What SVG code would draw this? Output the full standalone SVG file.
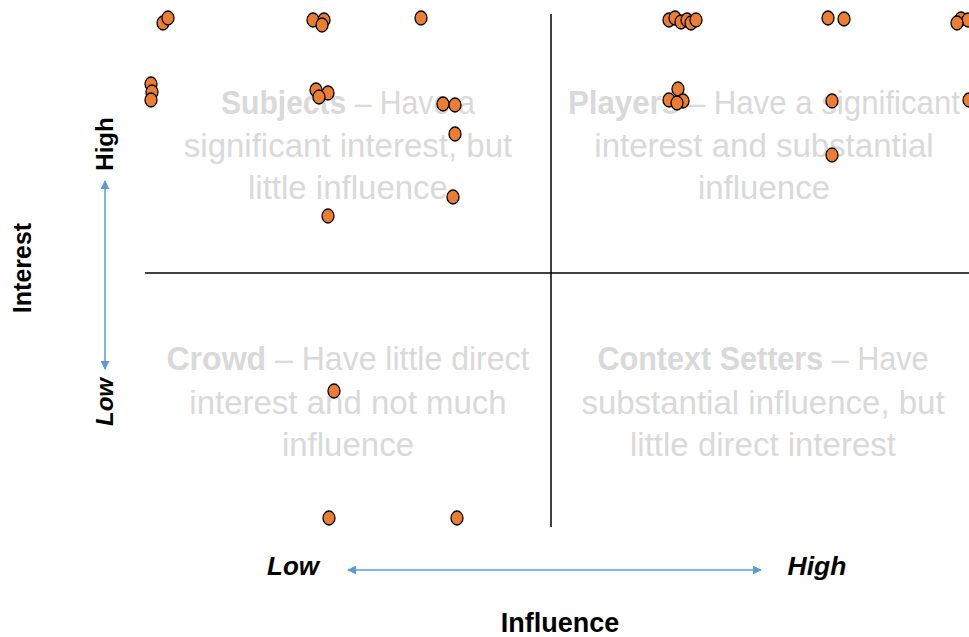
<svg xmlns="http://www.w3.org/2000/svg" width="969" height="637" viewBox="0 0 969 637">
<style>
.q{font-family:"Liberation Sans",Arial,sans-serif;font-size:33px;fill:#D9D9D9;text-anchor:middle}
.q .b{font-weight:bold}
.ax{font-family:"Liberation Sans",Arial,sans-serif;font-weight:bold;fill:#000}
.it{font-style:italic}
.dot{fill:#ED7D31;stroke:#000;stroke-width:1.3}
.grid{stroke:#000;stroke-width:1.5;fill:none}
.arr{stroke:#5B9BD5;stroke-width:1.5;fill:none;marker-start:url(#ah);marker-end:url(#ah)}
</style>
<defs>
<marker id="ah" viewBox="0 0 10 10" refX="9" refY="5" markerWidth="9" markerHeight="9" markerUnits="userSpaceOnUse" orient="auto-start-reverse">
<path d="M0,0 L10,5 L0,10 z" fill="#5B9BD5"/>
</marker>
</defs>
<rect width="969" height="637" fill="#fff"/>
<g id="quadrant-subjects" class="q">
<text x="348" y="114" textLength="254" lengthAdjust="spacingAndGlyphs"><tspan class="b">Subjects</tspan> – Have a</text>
<text x="348" y="157">significant interest, but</text>
<text x="348" y="199">little influence</text>
</g>
<g id="quadrant-players" class="q">
<text x="764" y="114" textLength="392" lengthAdjust="spacingAndGlyphs"><tspan class="b">Players</tspan> – Have a significant</text>
<text x="764" y="157">interest and substantial</text>
<text x="764" y="199">influence</text>
</g>
<g id="quadrant-crowd" class="q">
<text x="348" y="370" textLength="363" lengthAdjust="spacingAndGlyphs"><tspan class="b">Crowd</tspan> – Have little direct</text>
<text x="348" y="414">interest and not much</text>
<text x="348" y="456">influence</text>
</g>
<g id="quadrant-context" class="q">
<text x="763" y="370" textLength="331" lengthAdjust="spacingAndGlyphs"><tspan class="b">Context Setters</tspan> – Have</text>
<text x="763" y="414">substantial influence, but</text>
<text x="763" y="456">little direct interest</text>
</g>
<g id="connectors">
<line class="grid" x1="551" y1="14" x2="551" y2="527"/>
<line class="grid" x1="145" y1="273" x2="969" y2="273"/>
<line class="arr" x1="105" y1="181" x2="105" y2="369"/>
<line class="arr" x1="348" y1="570" x2="761" y2="570"/>
</g>
<g id="axis-labels">
<text class="ax" x="560" y="632" font-size="27" text-anchor="middle">Influence</text>
<text class="ax it" x="293" y="575" font-size="26" text-anchor="middle">Low</text>
<text class="ax it" x="817" y="575" font-size="26.5" text-anchor="middle">High</text>
<text class="ax" font-size="25" text-anchor="middle" transform="translate(31,268) rotate(-90)">Interest</text>
<text class="ax" font-size="24" text-anchor="middle" transform="translate(113,144) rotate(-90)">High</text>
<text class="ax it" font-size="24" text-anchor="middle" transform="translate(113,402) rotate(-90)">Low</text>
</g>
<g id="dots">
<ellipse class="dot" cx="163" cy="23" rx="6" ry="7"/>
<ellipse class="dot" cx="168" cy="18" rx="6" ry="7"/>
<ellipse class="dot" cx="313" cy="20" rx="6" ry="7"/>
<ellipse class="dot" cx="324" cy="20" rx="6" ry="7"/>
<ellipse class="dot" cx="322" cy="25" rx="6" ry="7"/>
<ellipse class="dot" cx="421" cy="18" rx="6" ry="7"/>
<ellipse class="dot" cx="151" cy="84" rx="6" ry="7"/>
<ellipse class="dot" cx="152" cy="92" rx="6" ry="7"/>
<ellipse class="dot" cx="151" cy="100" rx="6" ry="7"/>
<ellipse class="dot" cx="316" cy="90" rx="6" ry="7"/>
<ellipse class="dot" cx="328" cy="93" rx="6" ry="7"/>
<ellipse class="dot" cx="319" cy="97" rx="6" ry="7"/>
<ellipse class="dot" cx="443" cy="104" rx="6" ry="7"/>
<ellipse class="dot" cx="455" cy="105" rx="6" ry="7"/>
<ellipse class="dot" cx="455" cy="134" rx="6" ry="7"/>
<ellipse class="dot" cx="453" cy="197" rx="6" ry="7"/>
<ellipse class="dot" cx="328" cy="216" rx="6" ry="7"/>
<ellipse class="dot" cx="334" cy="391" rx="6" ry="7"/>
<ellipse class="dot" cx="329" cy="518" rx="6" ry="7"/>
<ellipse class="dot" cx="457" cy="518" rx="6" ry="7"/>
<ellipse class="dot" cx="669" cy="20" rx="6" ry="7"/>
<ellipse class="dot" cx="675" cy="18" rx="6" ry="7"/>
<ellipse class="dot" cx="681" cy="22" rx="6" ry="7"/>
<ellipse class="dot" cx="687" cy="20" rx="6" ry="7"/>
<ellipse class="dot" cx="691" cy="23" rx="6" ry="7"/>
<ellipse class="dot" cx="696" cy="20" rx="6" ry="7"/>
<ellipse class="dot" cx="828" cy="18" rx="6" ry="7"/>
<ellipse class="dot" cx="844" cy="19" rx="6" ry="7"/>
<ellipse class="dot" cx="961" cy="19" rx="6" ry="7"/>
<ellipse class="dot" cx="968" cy="20" rx="6" ry="7"/>
<ellipse class="dot" cx="957" cy="23" rx="6" ry="7"/>
<ellipse class="dot" cx="678" cy="89" rx="6" ry="7"/>
<ellipse class="dot" cx="669" cy="100" rx="6" ry="7"/>
<ellipse class="dot" cx="683" cy="101" rx="6" ry="7"/>
<ellipse class="dot" cx="677" cy="103" rx="6" ry="7"/>
<ellipse class="dot" cx="832" cy="101" rx="6" ry="7"/>
<ellipse class="dot" cx="832" cy="155" rx="6" ry="7"/>
<ellipse class="dot" cx="969" cy="100" rx="6" ry="7"/>
</g>
</svg>
